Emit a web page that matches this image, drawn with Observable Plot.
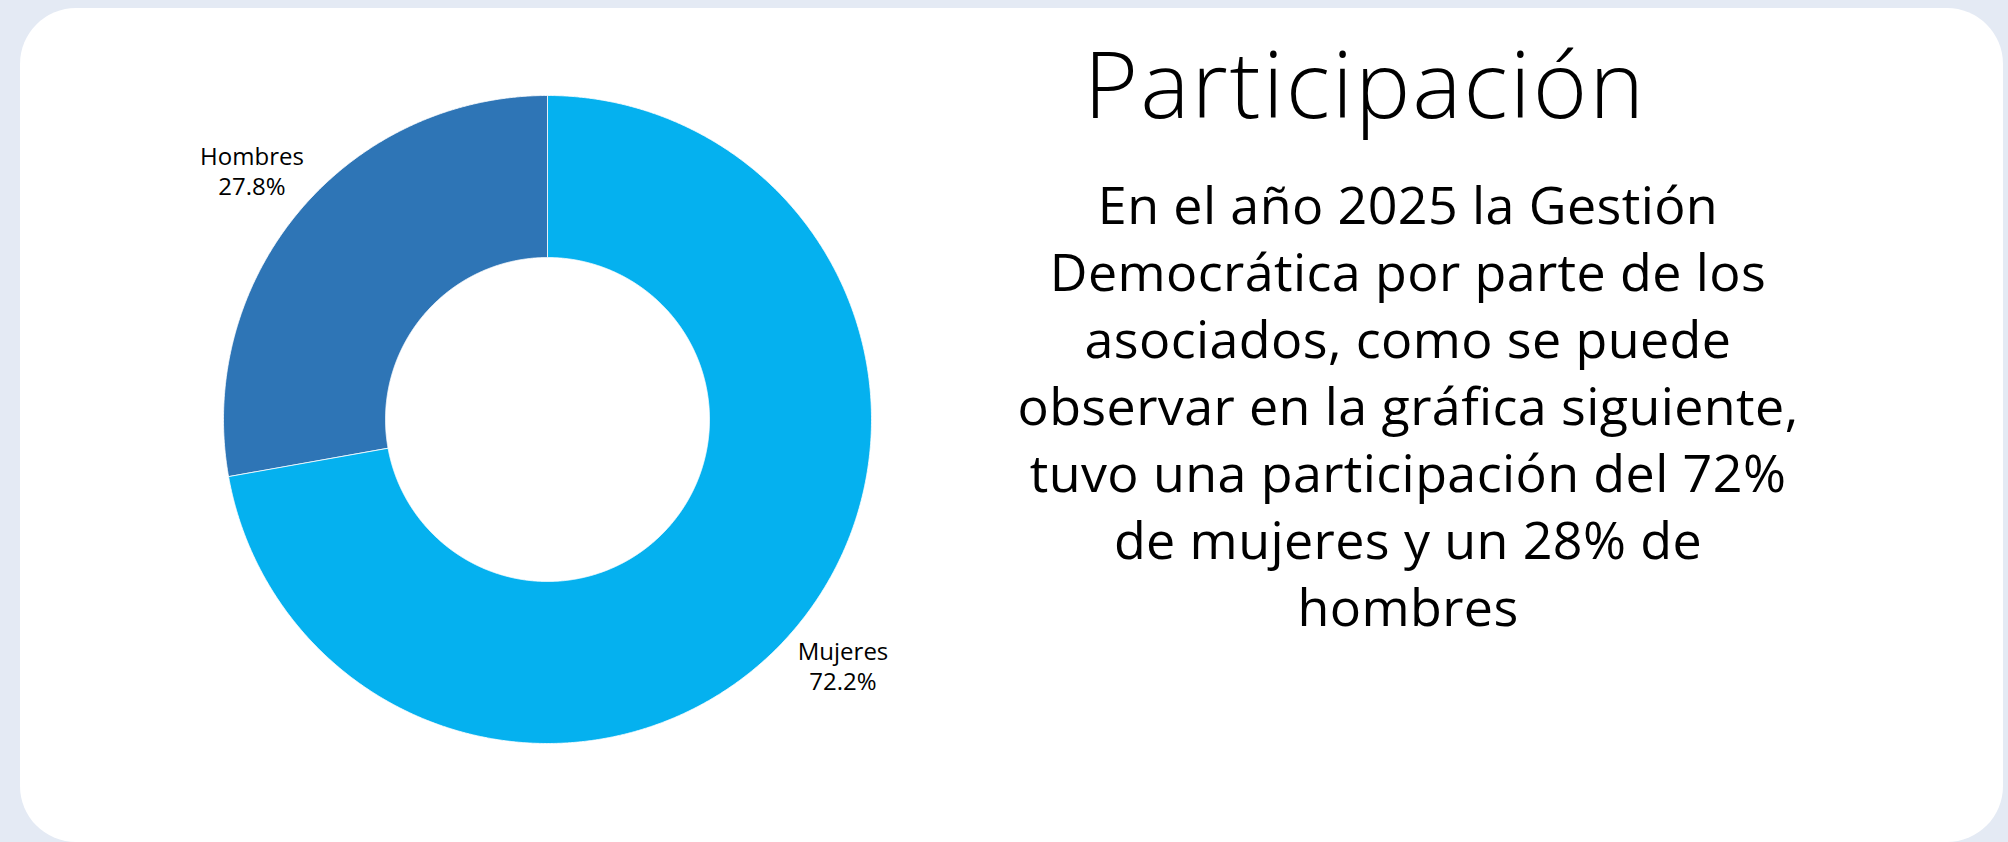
<!DOCTYPE html>
<html>
<head>
<meta charset="utf-8">
<script src="https://cdn.jsdelivr.net/npm/d3@7"></script>
<script src="https://cdn.jsdelivr.net/npm/@observablehq/plot@0.6"></script>
<style>
  html, body { margin: 0; padding: 0; width: 2008px; height: 842px; overflow: hidden; background: #e4eaf4; font-family: "Open Sans", sans-serif; color: #000; }
  #card { position: absolute; left: 20px; top: 8px; width: 1983px; height: 834px; background: #fff; border-radius: 56px; overflow: hidden; }
  #chart { position: absolute; left: 0; top: 0; }
  #title { position: absolute; left: 945px; top: 28px; width: 800px; text-align: center; font-size: 93px; line-height: 92px; font-weight: 300; letter-spacing: 2px; }
  #para { position: absolute; left: 888px; top: 162px; width: 1000px; text-align: center; font-size: 52px; line-height: 67px; font-weight: 400; letter-spacing: 0.4px; }
</style>
</head>
<body>
<div id="card">
  <div id="chart"></div>
  <div id="title"></div>
  <div id="para"></div>
</div>
<script>
// ---- data ----
const categories = ["Mujeres", "Hombres"];
const values = [72.2, 27.8];
const valueLabels = ["72.2%", "27.8%"];
const colors = ["#05b1ef", "#2e75b6"];
const titleText = "Participación";
const paragraphLines = [
  "En el año 2025 la Gestión",
  "Democrática por parte de los",
  "asociados, como se puede",
  "observar en la gráfica siguiente,",
  "tuvo una participación del 72%",
  "de mujeres y un 28% de",
  "hombres"
];

// ---- layout constants ----
const W = 1000, H = 834;
const cx = 527, cy = 411, R = 324;
const inner = 0.5;
const labelR = 1.19;

const data = categories.map((c, i) => ({label: c, value: values[i], pct: valueLabels[i]}));
const arcs = d3.pie().sort(null).value(d => d.value)(data);

// polygon vertices for each donut slice (angle 0 at top, clockwise)
const pts = [];
arcs.forEach(a => {
  const n = Math.max(2, Math.ceil((a.endAngle - a.startAngle) / (Math.PI / 720)));
  for (let k = 0; k <= n; k++) {
    const t = a.startAngle + (a.endAngle - a.startAngle) * k / n;
    pts.push({label: a.data.label, x: Math.sin(t), y: Math.cos(t)});
  }
  for (let k = n; k >= 0; k--) {
    const t = a.startAngle + (a.endAngle - a.startAngle) * k / n;
    pts.push({label: a.data.label, x: inner * Math.sin(t), y: inner * Math.cos(t)});
  }
});

const labels = arcs.map(a => {
  const m = (a.startAngle + a.endAngle) / 2;
  return {label: a.data.label, pct: a.data.pct, x: labelR * Math.sin(m), y: labelR * Math.cos(m)};
});

const plot = Plot.plot({
  width: W,
  height: H,
  margin: 0,
  style: {background: "transparent", fontFamily: "'Open Sans', sans-serif"},
  x: {domain: [-1, 1], range: [cx - R, cx + R], axis: null},
  y: {domain: [-1, 1], range: [cy + R, cy - R], axis: null},
  color: {type: "ordinal", domain: categories, range: colors},
  marks: [
    Plot.line(pts, {x: "x", y: "y", z: "label", fill: "label", stroke: "#ffffff", strokeWidth: 0.8, curve: "linear-closed"}),
    Plot.text(labels, {x: "x", y: "y", text: "label", dy: -15, fontSize: 24, fontWeight: 400, fill: "#000", letterSpacing: 0.6}),
    Plot.text(labels, {x: "x", y: "y", text: "pct", dy: 15, fontSize: 24, fontWeight: 400, fill: "#000", letterSpacing: 0.6})
  ]
});
document.getElementById("chart").appendChild(plot);

document.getElementById("title").textContent = titleText;
const para = document.getElementById("para");
paragraphLines.forEach(l => { const d = document.createElement("div"); d.textContent = l; para.appendChild(d); });
</script>
</body>
</html>
